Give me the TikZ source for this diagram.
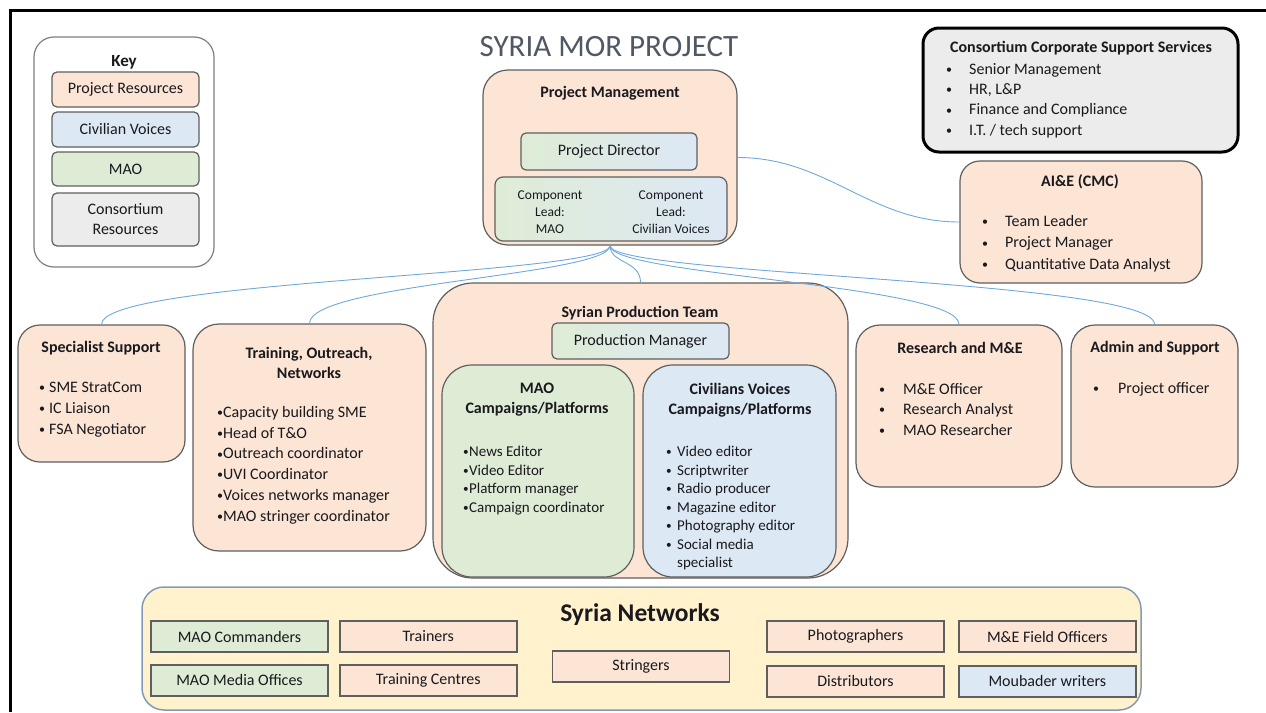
\documentclass[tikz,border=0pt]{standalone}
\usepackage{fontspec}
\setmainfont{Carlito}
\usepackage{tikz}
\usetikzlibrary{positioning, calc}
\definecolor{resfill}{RGB}{252, 229, 213}
\definecolor{civfill}{RGB}{221, 232, 245}
\definecolor{maofill}{RGB}{222, 236, 214}
\definecolor{consfill}{RGB}{236, 236, 236}
\definecolor{netfill}{RGB}{255, 242, 204}
\definecolor{netline}{RGB}{130, 155, 180}
\definecolor{boxline}{RGB}{95, 95, 95}
\definecolor{linkblue}{RGB}{111, 168, 220}
\definecolor{titlegray}{RGB}{80, 88, 100}
\definecolor{darktext}{RGB}{25, 25, 30}
\newcommand{\blt}[1]{\makebox[#1][l]{\raisebox{0.8pt}{\scalebox{0.75}{\textbullet}}}}

\begin{document}
\begin{tikzpicture}[
    x=1pt, y=-1pt,
    res/.style={draw=boxline, fill=resfill, line width=1.2pt,
                rounded corners=22pt, inner sep=0pt},
    keyitem/.style={draw=boxline, rounded corners=5pt, line width=1.2pt,
                    minimum width=147pt, align=center, text=darktext,
                    font=\fontsize{16}{20}\selectfont},
    head/.style={font=\bfseries\fontsize{16}{20}\selectfont, align=center,
                 text=darktext},
    items/.style={font=\fontsize{16}{21}\selectfont, align=left,
                  anchor=north west, inner sep=0pt, text=darktext},
    netitem/.style={draw=boxline, line width=1.8pt, minimum width=177pt,
                    minimum height=31pt, text=darktext,
                    font=\fontsize{16}{20}\selectfont},
    link/.style={draw=linkblue, line width=0.9pt},
  ]
    \useasboundingbox (0,0) rectangle (1266,712);
    % frame
    \draw[line width=3pt] (10,712) -- (10,10) -- (1266,10);

    % Key
    \node[draw=boxline!80, fill=white, line width=1.2pt, rounded corners=20pt,
          minimum width=180pt, minimum height=230pt] (key) at (124,152) {};
    \node[head, font=\bfseries\fontsize{17}{20}\selectfont] at (124,62) {Key};
    \node[keyitem, fill=resfill, minimum height=35pt] (kres) at (125.5,89.5) {Project Resources};
    \node[keyitem, fill=civfill, minimum height=35pt] (kciv) at (125.5,129.5) {Civilian Voices};
    \node[keyitem, fill=maofill, minimum height=34pt] (kmao) at (125.5,169) {MAO};
    \node[keyitem, fill=consfill, minimum height=53pt] (kcons) at (125.5,219.5) {Consortium\\Resources};

    % Title
    \node[font=\fontsize{31}{34}\selectfont, text=titlegray] (title) at (609,47) {SYRIA MOR PROJECT};

    % Project Management
    \node[res, rounded corners=25pt, minimum width=254pt, minimum height=175pt] (pm) at (610,157.5) {};
    \node[head] at (610,93) {Project Management};
    \node[draw=boxline, line width=1.2pt, rounded corners=5pt, left color=maofill, right color=civfill,
          minimum width=176pt, minimum height=37pt, text=darktext,
          font=\fontsize{16}{20}\selectfont] (pd) at (609,151.5) {Project Director};
    \node[draw=boxline, line width=1.2pt, rounded corners=8pt, left color=maofill, right color=civfill,
          minimum width=232pt, minimum height=64pt] (lead) at (611,209) {};
    \node[font=\fontsize{13.5}{17}\selectfont, align=center, text=darktext] at (550,212)
      {Component\\Lead:\\MAO};
    \node[font=\fontsize{13.5}{17}\selectfont, align=center, text=darktext] at (671,212)
      {Component\\Lead:\\Civilian Voices};

    % Consortium Corporate Support Services
    \node[draw=black, fill=consfill, line width=3pt, rounded corners=16pt,
          minimum width=315pt, minimum height=124pt] (ccss) at (1080.5,90) {};
    \node[head] at (1081,48) {Consortium Corporate Support Services};
    \node[items, font=\fontsize{16}{20.3}\selectfont] at (946,63)
      {\blt{23pt}Senior Management\\ \blt{23pt}HR, L\&P\\ \blt{23pt}Finance and Compliance\\ \blt{23pt}I.T. / tech support};

    % AI&E (CMC)
    \node[res, rounded corners=20pt, minimum width=242pt, minimum height=122pt] (aie) at (1081,222) {};
    \node[head] at (1080,182) {AI\&E (CMC)};
    \node[items, font=\fontsize{16}{21.5}\selectfont] at (982,215)
      {\blt{23pt}Team Leader\\ \blt{23pt}Project Manager\\ \blt{23pt}Quantitative Data Analyst};

    % Specialist Support
    \node[res, minimum width=167pt, minimum height=137pt] (spec) at (101.5,393.5) {};
    \node[head] at (101,348) {Specialist Support};
    \node[items] at (39,382)
      {\blt{10pt}SME StratCom\\ \blt{10pt}IC Liaison\\ \blt{10pt}FSA Negotiator};

    % Training, Outreach, Networks
    \node[res, rounded corners=26pt, minimum width=233pt, minimum height=227pt] (tron) at (309.5,437.5) {};
    \node[head] at (309,363) {Training, Outreach,\\Networks};
    \node[items, font=\fontsize{16}{20.8}\selectfont] at (217,406)
      {\blt{6pt}Capacity building SME\\ \blt{6pt}Head of T\&O\\ \blt{6pt}Outreach coordinator\\
       \blt{6pt}UVI Coordinator\\ \blt{6pt}Voices networks manager\\ \blt{6pt}MAO stringer coordinator};

    % Syrian Production Team
    \node[res, rounded corners=40pt, minimum width=415pt, minimum height=295pt] (spt) at (640.5,430.5) {};
    \node[head] at (640,313) {Syrian Production Team};
    \node[draw=boxline, line width=1.2pt, rounded corners=5pt, left color=maofill, right color=civfill,
          minimum width=177pt, minimum height=36pt, text=darktext,
          font=\fontsize{16}{20}\selectfont] (pmgr) at (640.5,341) {Production Manager};
    \node[res, fill=maofill, rounded corners=30pt, minimum width=192pt, minimum height=212pt] (maoc) at (538,471) {};
    \node[head] at (537,400) {MAO\\Campaigns/Platforms};
    \node[items, font=\fontsize{15}{18.5}\selectfont] at (463,446)
      {\blt{6pt}News Editor\\ \blt{6pt}Video Editor\\ \blt{6pt}Platform manager\\ \blt{6pt}Campaign coordinator};
    \node[res, fill=civfill, rounded corners=30pt, minimum width=193pt, minimum height=212pt] (cvc) at (739.5,471) {};
    \node[head] at (740,400) {Civilians Voices\\Campaigns/Platforms};
    \node[items, font=\fontsize{15}{18.5}\selectfont] at (666,446)
      {\blt{11pt}Video editor\\ \blt{11pt}Scriptwriter\\ \blt{11pt}Radio producer\\ \blt{11pt}Magazine editor\\
       \blt{11pt}Photography editor\\ \blt{11pt}Social media\\ \hspace*{11pt}specialist};

    % Research and M&E
    \node[res, rounded corners=24pt, minimum width=206pt, minimum height=162pt] (rme) at (959,406) {};
    \node[head] at (960,348) {Research and M\&E};
    \node[items, font=\fontsize{16}{20.5}\selectfont] at (879,383)
      {\blt{24pt}M\&E Officer\\ \blt{24pt}Research Analyst\\ \blt{24pt}MAO Researcher};

    % Admin and Support
    \node[res, rounded corners=24pt, minimum width=167pt, minimum height=162pt] (adm) at (1154.5,406) {};
    \node[head] at (1155,348) {Admin and Support};
    \node[items] at (1093,382) {\blt{25pt}Project officer};

    % Connectors
    \draw[link] (pm.east) .. controls +(90,0) and +(-90,0) .. (aie.west);
    \draw[link] (pm.south) .. controls +(0,30) and +(0,-45) .. (spec.north);
    \draw[link] (pm.south) .. controls +(0,30) and +(0,-40) .. (tron.north);
    \draw[link] (pm.south) .. controls +(0,18) and +(0,-22) .. (spt.north);
    \draw[link] (pm.south) .. controls +(0,30) and +(0,-40) .. (rme.north);
    \draw[link] (pm.south) .. controls +(0,30) and +(0,-45) .. (adm.north);

    % Syria Networks
    \node[draw=netline, fill=netfill, line width=1.5pt, rounded corners=22pt,
          minimum width=999pt, minimum height=123pt] (net) at (641.5,648.5) {};
    \node[font=\bfseries\fontsize{25.5}{28}\selectfont, text=darktext] at (640,615) {Syria Networks};
    \node[netitem, fill=maofill] (mcom) at (239.5,636.5) {MAO Commanders};
    \node[netitem, fill=maofill, below=11pt of mcom] (mmed) {MAO Media Offices};
    \node[netitem, fill=resfill, right=10pt of mcom] (trn) {Trainers};
    \node[netitem, fill=resfill, right=10pt of mmed] (tcen) {Training Centres};
    \node[netitem, fill=resfill] (str) at (641,666.5) {Stringers};
    \node[netitem, fill=resfill] (pho) at (855.5,636.5) {Photographers};
    \node[netitem, fill=resfill, below=12pt of pho] (dis) {Distributors};
    \node[netitem, fill=resfill, right=13pt of pho] (mef) {M\&E Field Officers};
    \node[netitem, fill=civfill, right=13pt of dis] (mou) {Moubader writers};
  \end{tikzpicture}
\end{document}
